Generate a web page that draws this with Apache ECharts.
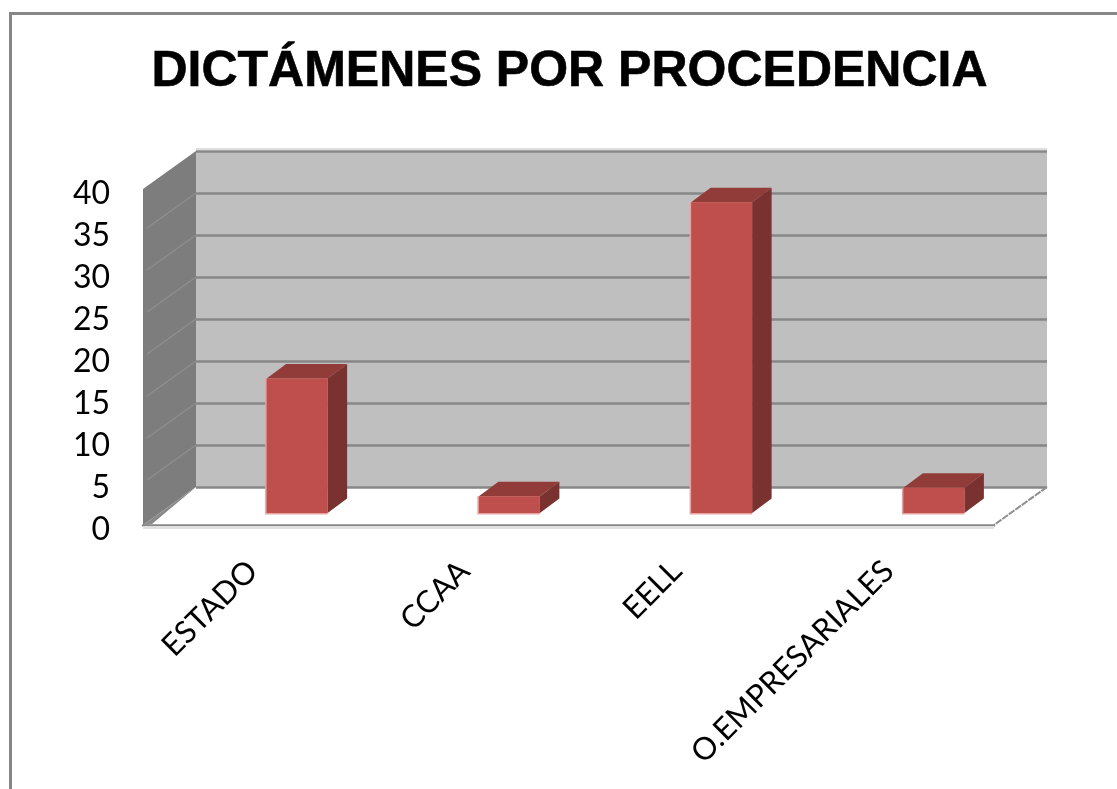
<!DOCTYPE html>
<html>
<head>
<meta charset="utf-8">
<style>html,body{margin:0;padding:0;background:#fff}#chart{width:1117px;height:789px}</style>
<script src="https://cdn.jsdelivr.net/npm/echarts@6/dist/echarts.min.js"></script>
</head>
<body>
<div id="chart"></div>
<script>
var categories = ['ESTADO', 'CCAA', 'EELL', 'O.EMPRESARIALES'];
var values = [16, 2, 37, 3];
var yTicks = [0, 5, 10, 15, 20, 25, 30, 35, 40];

var lineGray = '#878787';
var wallDx = 53, wallDy = 38;   // back wall -> front edge
var barDx = 19.5, barDy = 14.5; // depth of a bar
var barWidth = 61;

var chart = echarts.init(document.getElementById('chart'));

// left wall and floor edges, hung off the back wall grid
function renderWalls(params, api) {
    var cs = params.coordSys;
    var v = api.value(0);
    var p = api.coord([categories[0], v]);
    var x = cs.x, y = p[1];
    var kids = [];
    if (params.dataIndex === 0) {
        kids.push({
            type: 'polygon',
            shape: {points: [[x, cs.y], [x - wallDx, cs.y + wallDy], [x - wallDx, cs.y + cs.height + wallDy], [x, cs.y + cs.height]]},
            style: {fill: '#7d7d7d'}
        });
        kids.push({
            type: 'polygon',
            shape: {points: [[x, cs.y + cs.height], [x - wallDx + 9, cs.y + cs.height + wallDy - 1], [x - wallDx, cs.y + cs.height + wallDy]]},
            style: {fill: '#8a8a8a'}
        });
        kids.push({
            type: 'line',
            shape: {x1: cs.x + cs.width, y1: cs.y + cs.height, x2: cs.x + cs.width - wallDx, y2: cs.y + cs.height + wallDy},
            style: {stroke: '#8f8f8f', lineWidth: 2, lineDash: [7, 1]}
        });
        kids.push({
            type: 'rect',
            shape: {x: x - wallDx, y: cs.y + cs.height + wallDy + 1, width: cs.width, height: 3},
            style: {fill: '#e0e0e0'}
        });
        kids.push({
            type: 'rect',
            shape: {x: x, y: cs.y - 3, width: cs.width, height: 2},
            style: {fill: '#dedede'}
        });
    }
    if (v > 0 && v < 40) {
        kids.push({
            type: 'line',
            shape: {x1: x, y1: y, x2: x - wallDx + 4, y2: y + wallDy - 3},
            style: {stroke: '#8e8e8e', lineWidth: 1.5}
        });
    }
    return {type: 'group', children: kids};
}

function renderBar(params, api) {
    var top = api.coord([api.value(0), api.value(1)]);
    var base = api.coord([api.value(0), 0]);
    var x0 = top[0] - barWidth / 2, x1 = top[0] + barWidth / 2;
    return {
        type: 'group',
        children: [
            {type: 'rect', shape: {x: x0 - 1.5, y: top[1], width: barWidth + 1.5, height: base[1] - top[1] + 1.5}, style: {fill: '#e6a3a1'}},
            {type: 'polygon', shape: {points: [[x0, top[1]], [x0 + barDx, top[1] - barDy], [x1 + barDx, top[1] - barDy], [x1, top[1]]]}, style: {fill: '#923c39'}},
            {type: 'polygon', shape: {points: [[x1, base[1]], [x1 + barDx, base[1] - barDy], [x1 + barDx, top[1] - barDy], [x1, top[1]]]}, style: {fill: '#7a3230'}},
            {type: 'rect', shape: {x: x0, y: top[1], width: barWidth, height: base[1] - top[1]}, style: {fill: '#be4f4c'}}
        ]
    };
}

chart.setOption({
    animation: false,
    backgroundColor: '#fff',
    title: {
        text: 'DICTÁMENES POR PROCEDENCIA',
        left: 564.5,
        top: 42,
        textAlign: 'center',
        textStyle: {fontFamily: 'Liberation Sans', fontWeight: 'bold', fontSize: 50, color: '#000', textBorderColor: '#000', textBorderWidth: 0.6}
    },
    graphic: [
        {type: 'rect', shape: {x: 9, y: 12, width: 1108, height: 3}, style: {fill: lineGray}},
        {type: 'rect', shape: {x: 9, y: 12, width: 3, height: 777}, style: {fill: lineGray}}
    ],
    grid: [
        // back wall
        {left: 196, top: 151, width: 851, height: 336, show: true, backgroundColor: '#bfbfbf', borderWidth: 0},
        // front edge of the floor
        {left: 143, top: 189, width: 851, height: 336},
        // plane the bars stand on
        {left: 191, top: 177, width: 849, height: 336},
        // axis labels
        {left: 146.5, top: 194, width: 848, height: 336}
    ],
    xAxis: [
        {gridIndex: 0, type: 'category', data: categories, show: false},
        {
            gridIndex: 1, type: 'category', data: categories,
            axisLine: {show: true, lineStyle: {color: lineGray, width: 2.5}},
            axisTick: {show: false},
            axisLabel: {show: false}
        },
        {gridIndex: 2, type: 'category', data: categories, show: false},
        {
            gridIndex: 3, type: 'category', data: categories,
            axisLine: {show: false},
            axisTick: {show: false},
            axisLabel: {interval: 0, rotate: 45, margin: 36, fontFamily: 'Lato', fontSize: 31, color: '#000'}
        }
    ],
    yAxis: [
        {
            gridIndex: 0, type: 'value', min: 0, max: 40, interval: 5,
            axisLine: {show: false}, axisTick: {show: false}, axisLabel: {show: false},
            splitLine: {show: true, lineStyle: {color: lineGray, width: 2.5}}
        },
        {gridIndex: 1, type: 'value', min: 0, max: 40, interval: 5, show: false, splitLine: {show: false}},
        {gridIndex: 2, type: 'value', min: 0, max: 40, interval: 5, show: false, splitLine: {show: false}},
        {
            gridIndex: 3, type: 'value', min: 0, max: 40, interval: 5,
            axisLine: {show: false}, axisTick: {show: false},
            splitLine: {show: false},
            axisLabel: {margin: 36.5, fontFamily: 'Lato', fontSize: 32, color: '#000'}
        }
    ],
    series: [
        {
            type: 'custom', name: 'walls', xAxisIndex: 0, yAxisIndex: 0, z: 1, silent: true,
            data: yTicks.map(function (t) { return [t]; }),
            encode: {y: 0},
            renderItem: renderWalls
        },
        {
            type: 'custom', name: 'Dictámenes', xAxisIndex: 2, yAxisIndex: 2, z: 3,
            data: categories.map(function (c, i) { return [i, values[i]]; }),
            encode: {x: 0, y: 1},
            renderItem: renderBar
        }
    ]
});
</script>
</body>
</html>
